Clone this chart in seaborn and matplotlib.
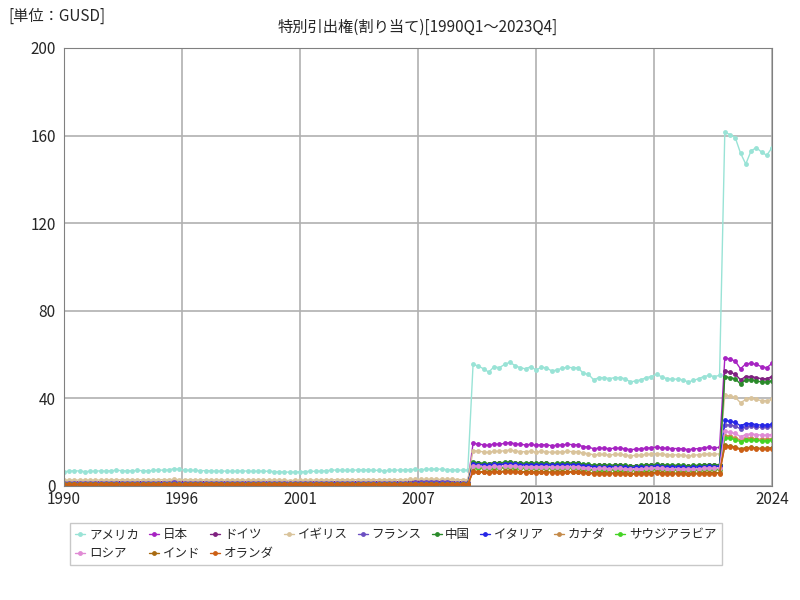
import numpy as np
import pandas as pd
import matplotlib
matplotlib.use("Agg")
import matplotlib.pyplot as plt
import seaborn as sns

# quarterly 1990Q1 .. 2023Q4 (136 points)
quarters = pd.period_range("1990Q1", "2023Q4", freq="Q").astype(str).tolist()

us = [6.5,6.8,7.0,6.8, 6.6,6.7,6.8,6.9, 6.8,7.0,7.2,7.0, 6.9,7.0,7.1,7.0,
      6.9,7.1,7.3,7.2, 7.4,7.9,7.6,7.3, 7.2,7.1,7.0,7.0, 6.9,6.8,6.8,6.8,
      6.7,6.8,6.9,6.8, 6.7,6.8,6.8,6.7, 6.6,6.5,6.4,6.3, 6.4,6.5,6.6,6.7,
      6.7,6.8,7.0,7.2, 7.3,7.2,7.1,7.2, 7.3,7.4,7.3,7.2, 7.1,7.0,7.1,7.2,
      7.3,7.4,7.5,7.6, 7.5,7.6,7.7,7.8, 7.6,7.5,7.4,7.3, 7.2,7.3,
      55.5,54.8,53.5,52.0, 54.5,54.0,55.5,56.5, 55.0,54.0,53.5,54.5,
      53.0,54.2,54.0,52.5, 53.0,53.8,54.2,54.0, 54.0,51.5,51.0,48.5,
      49.5,49.5,49.0,49.5, 49.5,49.0,47.5,48.0, 48.5,49.5,50.0,51.0,
      49.8,49.0,48.8,48.8, 48.5,47.5,48.2,49.0, 50.0,50.5,50.0,50.5,
      161.5,160.5,159.0,152.0, 147.0,153.0,154.5,152.5, 151.0,154.5]

japan = [1.2,1.2,1.2,1.2, 1.2,1.2,1.2,1.2, 1.3,1.3,1.3,1.3, 1.3,1.3,1.3,1.3,
         1.4,1.4,1.4,1.4, 1.4,1.5,1.4,1.4, 1.4,1.4,1.4,1.4, 1.3,1.3,1.3,1.3,
         1.3,1.3,1.3,1.3, 1.3,1.3,1.3,1.3, 1.3,1.2,1.2,1.2, 1.2,1.2,1.3,1.3,
         1.3,1.3,1.3,1.4, 1.4,1.4,1.4,1.4, 1.4,1.4,1.4,1.4, 1.4,1.4,1.4,1.4,
         1.4,1.4,1.4,1.5, 1.5,1.5,1.5,1.5, 1.5,1.5,1.5,1.5, 1.5,1.5,
         19.5,19.2,18.8,18.5, 19.3,19.0,19.5,19.8, 19.3,19.0,18.8,19.0,
         18.6,18.9,18.8,18.4, 18.6,18.8,19.0,18.9, 18.8,18.0,17.8,17.0,
         17.3,17.3,17.0,17.3, 17.3,17.0,16.6,16.8, 17.0,17.3,17.5,17.8,
         17.4,17.2,17.1,17.1, 17.0,16.6,16.9,17.1, 17.5,17.7,17.5,17.6,
         58.5,58.0,57.0,53.5, 55.8,56.0,55.5,54.5, 54.0,56.0]

germany = [1.8,1.8,1.9,1.9, 1.9,1.9,1.9,1.9, 1.9,1.9,2.0,2.0, 2.0,2.0,2.0,2.0,
           2.0,2.0,2.0,2.0, 2.1,2.1,2.1,2.0, 2.0,2.0,2.0,2.0, 1.9,1.9,1.9,1.9,
           1.9,1.9,1.9,1.9, 1.9,1.9,1.9,1.9, 1.8,1.8,1.8,1.8, 1.8,1.8,1.8,1.9,
           1.9,1.9,1.9,2.0, 2.0,2.0,2.0,2.0, 2.0,2.0,2.0,2.0, 2.0,2.0,2.0,2.0,
           2.0,2.0,2.1,2.1, 2.1,2.1,2.1,2.1, 2.1,2.1,2.0,2.0, 2.0,2.0,
           10.6,10.4,10.2,10.0, 10.5,10.4,10.6,10.8, 10.5,10.3,10.2,10.4,
           10.1,10.3,10.3,10.0, 10.1,10.2,10.3,10.3, 10.3,9.8,9.7,9.3,
           9.4,9.4,9.3,9.4, 9.4,9.3,9.0,9.1, 9.2,9.4,9.5,9.7,
           9.5,9.3,9.3,9.3, 9.2,9.0,9.2,9.3, 9.5,9.6,9.5,9.6,
           52.5,52.0,51.0,48.5, 50.0,50.0,49.5,49.0, 49.0,50.0]

uk = [2.6,2.7,2.7,2.7, 2.7,2.7,2.7,2.7, 2.7,2.8,2.8,2.8, 2.8,2.8,2.8,2.8,
      2.8,2.8,2.9,2.9, 2.9,3.0,2.9,2.9, 2.9,2.8,2.8,2.8, 2.7,2.7,2.7,2.7,
      2.7,2.7,2.7,2.7, 2.7,2.7,2.7,2.7, 2.6,2.6,2.6,2.5, 2.6,2.6,2.6,2.7,
      2.7,2.7,2.8,2.8, 2.9,2.9,2.8,2.9, 2.9,2.9,2.9,2.9, 2.8,2.8,2.8,2.9,
      2.9,2.9,3.0,3.0, 3.0,3.0,3.1,3.1, 3.0,3.0,3.0,2.9, 2.9,2.9,
      16.2,15.9,15.6,15.3, 15.9,15.8,16.1,16.4, 16.0,15.7,15.6,15.9,
      15.5,15.8,15.7,15.3, 15.5,15.6,15.8,15.7, 15.7,15.0,14.8,14.2,
      14.4,14.4,14.2,14.4, 14.4,14.2,13.8,14.0, 14.1,14.4,14.6,14.8,
      14.5,14.3,14.2,14.2, 14.1,13.8,14.0,14.3, 14.5,14.7,14.5,14.7,
      41.5,41.0,40.5,38.0, 39.5,40.0,39.5,39.0, 39.0,39.5]

france = [1.4,1.4,1.4,1.4, 1.4,1.4,1.4,1.4, 1.4,1.5,1.5,1.5, 1.5,1.5,1.5,1.5,
          1.5,1.5,1.5,1.5, 1.5,1.6,1.5,1.5, 1.5,1.5,1.5,1.5, 1.4,1.4,1.4,1.4,
          1.4,1.4,1.4,1.4, 1.4,1.4,1.4,1.4, 1.4,1.3,1.3,1.3, 1.3,1.4,1.4,1.4,
          1.4,1.4,1.4,1.5, 1.5,1.5,1.5,1.5, 1.5,1.5,1.5,1.5, 1.5,1.5,1.5,1.5,
          1.5,1.5,1.5,1.6, 1.6,1.6,1.6,1.6, 1.6,1.6,1.5,1.5, 1.5,1.5,
          10.2,10.0,9.8,9.6, 10.1,10.0,10.2,10.4, 10.1,9.9,9.8,10.0,
          9.7,9.9,9.9,9.6, 9.7,9.8,9.9,9.9, 9.9,9.4,9.3,8.9,
          9.0,9.0,8.9,9.0, 9.0,8.9,8.6,8.7, 8.8,9.0,9.1,9.3,
          9.1,8.9,8.9,8.9, 8.8,8.6,8.8,8.9, 9.1,9.2,9.1,9.2,
          28.0,27.8,27.4,26.0, 27.0,27.2,27.0,26.8, 26.8,27.2]

china = [0.9,0.9,0.9,0.9, 0.9,0.9,0.9,0.9, 0.9,0.9,0.9,0.9, 0.9,0.9,0.9,0.9,
         0.9,0.9,0.9,0.9, 0.9,1.0,0.9,0.9, 0.9,0.9,0.9,0.9, 0.9,0.9,0.9,0.9,
         0.9,0.9,0.9,0.9, 0.9,0.9,0.9,0.9, 0.9,0.9,0.9,0.9, 0.9,0.9,0.9,0.9,
         0.9,0.9,0.9,1.0, 1.0,1.0,1.0,1.0, 1.0,1.0,1.0,1.0, 1.0,1.0,1.0,1.0,
         1.0,1.0,1.0,1.0, 1.0,1.0,1.0,1.0, 1.0,1.0,1.0,1.0, 1.0,1.0,
         11.0,10.6,10.4,10.2, 10.7,10.6,10.8,11.0, 10.7,10.5,10.4,10.6,
         10.3,10.5,10.5,10.2, 10.3,10.4,10.5,10.5, 10.5,10.0,9.9,9.5,
         9.6,9.6,9.5,9.6, 9.6,9.5,9.2,9.3, 9.4,9.6,9.7,9.9,
         9.7,9.5,9.5,9.5, 9.4,9.2,9.4,9.5, 9.7,9.8,9.7,9.8,
         50.0,49.5,49.0,46.5, 48.5,48.5,48.0,47.5, 47.5,48.0]

italy = [1.0,1.0,1.0,1.0, 1.0,1.0,1.0,1.0, 1.0,1.0,1.0,1.0, 1.0,1.0,1.0,1.0,
         1.0,1.0,1.1,1.1, 1.1,1.1,1.1,1.1, 1.1,1.0,1.0,1.0, 1.0,1.0,1.0,1.0,
         1.0,1.0,1.0,1.0, 1.0,1.0,1.0,1.0, 1.0,1.0,1.0,1.0, 1.0,1.0,1.0,1.0,
         1.0,1.0,1.0,1.1, 1.1,1.1,1.1,1.1, 1.1,1.1,1.1,1.1, 1.1,1.1,1.1,1.1,
         1.1,1.1,1.1,1.1, 1.1,1.1,1.1,1.1, 1.1,1.1,1.1,1.1, 1.1,1.1,
         10.0,9.8,9.6,9.4, 9.9,9.8,10.0,10.2, 9.9,9.7,9.6,9.8,
         9.5,9.7,9.7,9.4, 9.5,9.6,9.7,9.7, 9.7,9.2,9.1,8.7,
         8.8,8.8,8.7,8.8, 8.8,8.7,8.4,8.5, 8.6,8.8,8.9,9.1,
         8.9,8.7,8.7,8.7, 8.6,8.4,8.6,8.7, 8.9,9.0,8.9,9.0,
         30.0,29.5,29.0,27.5, 28.5,28.5,28.0,27.8, 27.8,28.2]

canada = [0.9,0.9,0.9,0.9, 0.9,0.9,0.9,0.9, 0.9,0.9,0.9,0.9, 0.9,0.9,0.9,0.9,
          0.9,0.9,0.9,0.9, 0.9,1.0,0.9,0.9, 0.9,0.9,0.9,0.9, 0.9,0.9,0.9,0.9,
          0.9,0.9,0.9,0.9, 0.9,0.9,0.9,0.9, 0.9,0.9,0.9,0.9, 0.9,0.9,0.9,0.9,
          0.9,0.9,0.9,0.9, 0.9,0.9,0.9,0.9, 0.9,0.9,0.9,0.9, 0.9,0.9,0.9,0.9,
          0.9,0.9,0.9,0.9, 0.9,0.9,0.9,0.9, 0.9,0.9,0.9,0.9, 0.9,0.9,
          8.2,8.0,7.9,7.7, 8.1,8.0,8.2,8.4, 8.1,8.0,7.9,8.0,
          7.8,8.0,7.9,7.7, 7.8,7.9,8.0,7.9, 7.9,7.5,7.4,7.1,
          7.2,7.2,7.1,7.2, 7.2,7.1,6.9,7.0, 7.0,7.2,7.3,7.4,
          7.3,7.1,7.1,7.1, 7.0,6.9,7.0,7.1, 7.3,7.4,7.3,7.4,
          23.0,22.8,22.0,21.0, 21.8,21.8,21.5,21.3, 21.3,21.6]

saudi = [0.7,0.7,0.7,0.7, 0.7,0.7,0.7,0.7, 0.7,0.7,0.7,0.7, 0.7,0.7,0.7,0.7,
         0.7,0.7,0.7,0.7, 0.7,0.8,0.7,0.7, 0.7,0.7,0.7,0.7, 0.7,0.7,0.7,0.7,
         0.7,0.7,0.7,0.7, 0.7,0.7,0.7,0.7, 0.7,0.7,0.7,0.7, 0.7,0.7,0.7,0.7,
         0.7,0.7,0.7,0.7, 0.7,0.7,0.7,0.7, 0.7,0.7,0.7,0.7, 0.7,0.7,0.7,0.7,
         0.7,0.7,0.7,0.7, 0.7,0.7,0.7,0.7, 0.7,0.7,0.7,0.7, 0.7,0.7,
         8.6,8.4,8.2,8.0, 8.4,8.3,8.5,8.7, 8.4,8.3,8.2,8.3,
         8.1,8.3,8.2,8.0, 8.1,8.2,8.3,8.2, 8.2,7.8,7.7,7.4,
         7.5,7.5,7.4,7.5, 7.5,7.4,7.2,7.3, 7.3,7.5,7.6,7.7,
         7.6,7.4,7.4,7.4, 7.3,7.2,7.3,7.4, 7.6,7.7,7.6,7.7,
         22.0,21.8,21.2,20.2, 21.0,21.0,20.8,20.6, 20.6,21.0]

russia = [0.0,0.0,0.0,0.0, 0.0,0.0,0.0,0.0, 0.0,0.2,0.4,0.5, 0.5,0.5,0.5,0.5,
          0.5,0.5,0.5,0.5, 0.5,0.5,0.5,0.5, 0.5,0.5,0.5,0.5, 0.5,0.5,0.5,0.5,
          0.5,0.5,0.5,0.5, 0.5,0.5,0.5,0.5, 0.5,0.5,0.5,0.5, 0.5,0.5,0.5,0.5,
          0.5,0.5,0.5,0.5, 0.5,0.5,0.5,0.5, 0.5,0.5,0.5,0.5, 0.5,0.5,0.5,0.5,
          0.5,0.5,0.5,0.5, 0.5,0.5,0.5,0.5, 0.5,0.5,0.5,0.5, 0.5,0.5,
          9.2,9.0,8.8,8.6, 9.0,8.9,9.1,9.3, 9.0,8.9,8.8,8.9,
          8.7,8.9,8.8,8.6, 8.7,8.8,8.9,8.8, 8.8,8.4,8.3,7.9,
          8.0,8.0,7.9,8.0, 8.0,7.9,7.7,7.8, 7.8,8.0,8.1,8.3,
          8.1,7.9,7.9,7.9, 7.8,7.7,7.8,7.9, 8.1,8.2,8.1,8.2,
          25.0,24.5,24.0,22.5, 23.5,23.8,23.5,23.2, 23.2,23.5]

india = [0.4,0.4,0.4,0.4, 0.4,0.4,0.4,0.4, 0.4,0.4,0.4,0.4, 0.4,0.4,0.4,0.4,
         0.4,0.4,0.4,0.4, 0.4,0.4,0.4,0.4, 0.4,0.4,0.4,0.4, 0.4,0.4,0.4,0.4,
         0.4,0.4,0.4,0.4, 0.4,0.4,0.4,0.4, 0.4,0.4,0.4,0.4, 0.4,0.4,0.4,0.4,
         0.4,0.4,0.4,0.4, 0.4,0.4,0.4,0.4, 0.4,0.4,0.4,0.4, 0.4,0.4,0.4,0.4,
         0.4,0.4,0.4,0.4, 0.4,0.4,0.4,0.4, 0.4,0.4,0.4,0.4, 0.4,0.4,
         6.8,6.6,6.5,6.4, 6.7,6.6,6.8,6.9, 6.7,6.6,6.5,6.6,
         6.4,6.6,6.5,6.4, 6.4,6.5,6.6,6.6, 6.6,6.2,6.1,5.9,
         6.0,6.0,5.9,6.0, 6.0,5.9,5.7,5.8, 5.8,6.0,6.0,6.2,
         6.0,5.9,5.9,5.9, 5.8,5.7,5.8,5.9, 6.0,6.1,6.0,6.1,
         18.5,18.3,17.8,17.0, 17.5,17.6,17.4,17.2, 17.2,17.5]

netherlands = [0.8,0.8,0.8,0.8, 0.8,0.8,0.8,0.8, 0.8,0.8,0.8,0.8, 0.8,0.8,0.8,0.8,
               0.8,0.8,0.8,0.8, 0.8,0.9,0.8,0.8, 0.8,0.8,0.8,0.8, 0.8,0.8,0.8,0.8,
               0.8,0.8,0.8,0.8, 0.8,0.8,0.8,0.8, 0.8,0.8,0.8,0.8, 0.8,0.8,0.8,0.8,
               0.8,0.8,0.8,0.8, 0.8,0.8,0.8,0.8, 0.8,0.8,0.8,0.8, 0.8,0.8,0.8,0.8,
               0.8,0.8,0.8,0.8, 0.8,0.8,0.8,0.8, 0.8,0.8,0.8,0.8, 0.8,0.8,
               6.4,6.3,6.2,6.0, 6.3,6.2,6.4,6.5, 6.3,6.2,6.1,6.2,
               6.0,6.2,6.1,6.0, 6.0,6.1,6.2,6.2, 6.2,5.9,5.8,5.5,
               5.6,5.6,5.5,5.6, 5.6,5.5,5.3,5.4, 5.4,5.6,5.6,5.8,
               5.6,5.5,5.5,5.5, 5.4,5.3,5.4,5.5, 5.6,5.7,5.6,5.7,
               18.0,17.8,17.5,16.5, 17.0,17.3,17.0,16.8, 16.8,17.0]

names = ["アメリカ", "日本", "ドイツ", "イギリス", "フランス", "中国", "イタリア",
         "カナダ", "サウジアラビア", "ロシア", "インド", "オランダ"]
series = [us, japan, germany, uk, france, china, italy, canada, saudi, russia, india, netherlands]
colors = ["#99e3d6", "#a623c2", "#7f2080", "#d9c39b", "#6b4fc2", "#2a8a2a", "#2525e6",
          "#c48a4a", "#44d424", "#e08ad4", "#a86a10", "#cc5f14"]

year_ticks = ["1990", "1996", "2001", "2007", "2013", "2018", "2024"]

df = pd.DataFrame({"q": np.tile(np.arange(len(quarters)), len(names)),
                   "country": np.repeat(names, len(quarters)),
                   "value": np.concatenate(series)})

sns.set_style("white")
# set font after seaborn style so it isn't reset
plt.rcParams["font.family"] = "Noto Sans CJK JP"

fig, ax = plt.subplots(figsize=(8, 6), dpi=100)
fig.subplots_adjust(left=0.08, right=0.965, top=0.92, bottom=0.19)

sns.lineplot(data=df, x="q", y="value", hue="country", hue_order=names,
             palette=colors, marker="o", markersize=3.5, markeredgewidth=0,
             linewidth=1, ax=ax, legend=True)

n = len(quarters) - 1
ax.set_xlim(0, n)
ax.set_ylim(0, 200)
ax.set_xticks(np.linspace(0, n, len(year_ticks)))
ax.set_xticklabels(year_ticks)
ax.set_yticks(range(0, 201, 40))
ax.tick_params(labelsize=11, length=0)
ax.tick_params(axis="y", pad=6)
ax.grid(True, color="#b0b0b0", linewidth=1.2)
ax.set_xlabel("")
ax.set_ylabel("")
for s in ax.spines.values():
    s.set_color("#808080")

ax.set_title("特別引出権(割り当て)[1990Q1～2023Q4]", fontsize=11, pad=12)
fig.text(0.01, 0.965, "[単位：GUSD]", fontsize=11)

# matplotlib fills legend column-wise; reorder so it reads row-wise (9 + 3)
h, l = ax.get_legend_handles_labels()
order = [0, 9, 1, 10, 2, 11, 3, 4, 5, 6, 7, 8]
ax.legend([h[i] for i in order], [l[i] for i in order], loc="upper left",
          bbox_to_anchor=(0.0, -0.07), ncol=9,
          fontsize=9, frameon=True, edgecolor="#bbbbbb", handlelength=0.8,
          handletextpad=0.3, columnspacing=0.8, borderpad=0.4, fancybox=False)

fig.savefig("out.png")
